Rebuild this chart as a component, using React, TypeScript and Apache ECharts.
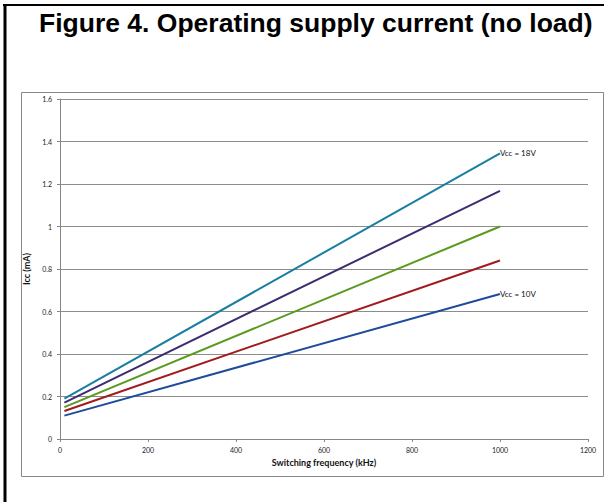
import React, { useEffect, useRef } from "react";
import * as echarts from "echarts";

const freqKHz = [10, 1000];
const vcc10 = [0.11, 0.682];
const vcc12 = [0.132, 0.84];
const vcc14 = [0.15, 1.0];
const vcc16 = [0.171, 1.168];
const vcc18 = [0.19, 1.344];
const seriesNames = ["Vcc = 10V", "Vcc = 12V", "Vcc = 14V", "Vcc = 16V", "Vcc = 18V"];
const seriesColors = ["#1f4b9b", "#a01a1e", "#5b9a1f", "#3e2b70", "#1a7ea1"];
const labeled = ["Vcc = 10V", "Vcc = 18V"];

export default function App() {
  const ref = useRef<HTMLDivElement>(null);
  useEffect(() => {
    if (!ref.current) return;
    const chart = echarts.init(ref.current, null, { renderer: "svg" });
    const allData = [vcc10, vcc12, vcc14, vcc16, vcc18];
    const font = "Lato, 'Open Sans', sans-serif";
    chart.setOption({
      animation: false,
      backgroundColor: "#ffffff",
      title: {
        text: "Figure 4. Operating supply current (no load)",
        left: 34,
        top: 4,
        textStyle: {
          fontFamily: "'Liberation Sans', Arial, sans-serif",
          fontWeight: "bold",
          fontSize: 26.5,
          color: "#000",
        },
      },
      graphic: [
        { type: "line", shape: { x1: 3, y1: 5, x2: 604, y2: 5 }, style: { stroke: "#000", lineWidth: 2 } },
        { type: "line", shape: { x1: 5, y1: 4, x2: 5, y2: 502 }, style: { stroke: "#000", lineWidth: 3 } },
        { type: "rect", shape: { x: 21.5, y: 92.5, width: 582, height: 384 }, style: { fill: "none", stroke: "#888", lineWidth: 1 } },
      ],
      grid: { left: 60, right: 25, top: 99, bottom: 63 },
      xAxis: {
        type: "value",
        min: 0,
        max: 1200,
        interval: 200,
        name: "Switching frequency (kHz)",
        nameLocation: "middle",
        nameGap: 18,
        nameTextStyle: { fontFamily: font, fontSize: 9, fontWeight: "bold", color: "#111" },
        axisLine: { show: true, lineStyle: { color: "#868686", width: 1 } },
        axisTick: { show: true, length: 3, lineStyle: { color: "#868686" } },
        axisLabel: {
          fontFamily: font,
          fontSize: 7,
          color: "#222",
          margin: 7,
          formatter: (v: number) => String(v),
        },
        splitLine: { show: false },
      },
      yAxis: {
        type: "value",
        min: 0,
        max: 1.6,
        interval: 0.2,
        name: "Icc (mA)",
        nameLocation: "middle",
        nameGap: 21,
        nameTextStyle: { fontFamily: font, fontSize: 9, fontWeight: "bold", color: "#111" },
        axisLine: { show: true, lineStyle: { color: "#868686", width: 1 } },
        axisTick: { show: true, length: 3, lineStyle: { color: "#868686" } },
        axisLabel: {
          fontFamily: font,
          fontSize: 7,
          color: "#222",
          margin: 8,
          formatter: (v: number) => String(Math.round(v * 10) / 10),
        },
        splitLine: { show: true, lineStyle: { color: "#8c8c8c", width: 1 } },
      },
      series: seriesNames.map((name, i) => ({
        name,
        type: "line",
        data: freqKHz.map((f, j) => [f, allData[i][j]]),
        symbol: "none",
        lineStyle: { color: seriesColors[i], width: 2 },
        itemStyle: { color: seriesColors[i] },
        endLabel: labeled.includes(name)
          ? {
              show: true,
              formatter: name,
              distance: 0,
              fontFamily: font,
              fontSize: 8,
              color: "#111",
            }
          : { show: false },
      })),
    });
    return () => chart.dispose();
  }, []);
  return (
    <div
      ref={ref}
      style={{ position: "fixed", left: 0, top: 0, width: 613, height: 502 }}
    />
  );
}
